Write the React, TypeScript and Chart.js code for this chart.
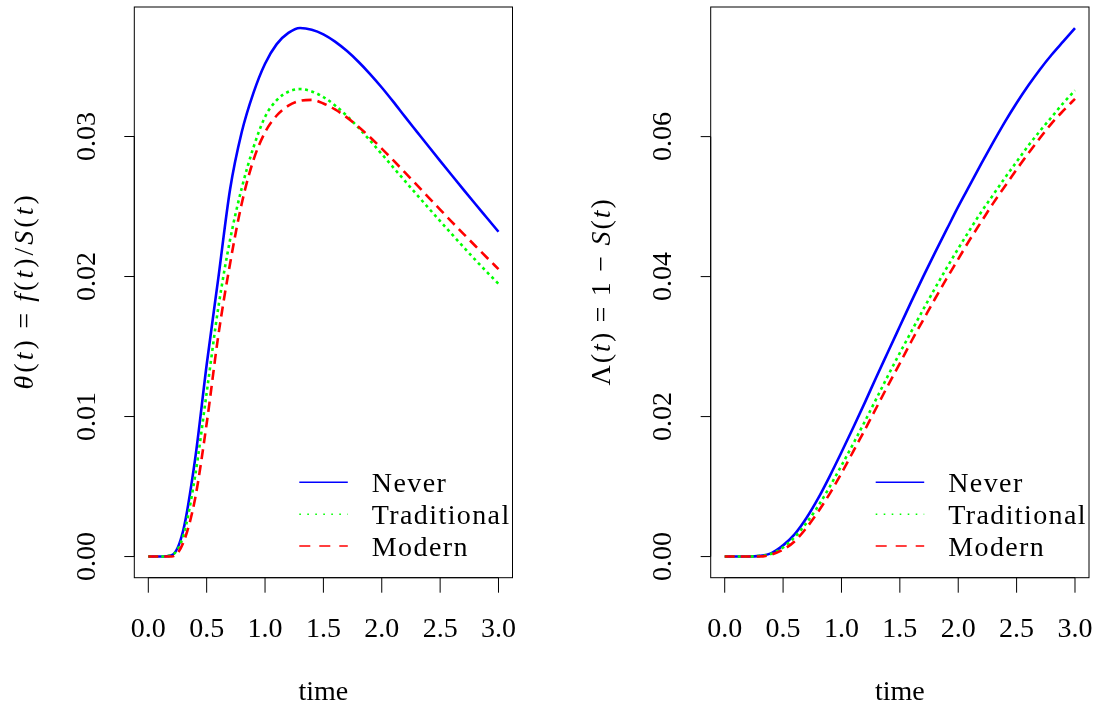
import React, { useEffect, useRef } from "react";
import { Chart, registerables } from "chart.js";

Chart.register(...registerables);

// ---------------- data ----------------
const time = [
  0, 0.1, 0.2, 0.3, 0.4, 0.5, 0.6, 0.7, 0.8, 0.9, 1.0, 1.1, 1.2, 1.3, 1.4, 1.5,
  1.6, 1.7, 1.8, 1.9, 2.0, 2.1, 2.2, 2.3, 2.4, 2.5, 2.6, 2.7, 2.8, 2.9, 3.0,
];

const hazardNever = [
  0, 0, 0.0001, 0.0019, 0.0069, 0.0137, 0.0199, 0.0262, 0.0303, 0.0331, 0.0352,
  0.0366, 0.0374, 0.03775, 0.03763, 0.0373, 0.03678, 0.03612, 0.03534, 0.03446,
  0.0335, 0.03247, 0.0314, 0.03035, 0.0293, 0.02826, 0.02723, 0.02621, 0.0252,
  0.0242, 0.0232,
];
const hazardTraditional = [
  0, 0, 0.0001, 0.0015, 0.0057, 0.0117, 0.0178, 0.0226, 0.0263, 0.0292, 0.0314,
  0.0326, 0.0332, 0.03339, 0.03322, 0.03282, 0.03222, 0.03148, 0.03063, 0.02971,
  0.02875, 0.02778, 0.02681, 0.02585, 0.0249, 0.02396, 0.02303, 0.02211, 0.0212,
  0.02033, 0.01948,
];
const hazardModern = [
  0, 0, 0, 0.001, 0.0041, 0.0095, 0.0158, 0.0209, 0.0252, 0.0283, 0.0303,
  0.0315, 0.0322, 0.03255, 0.03262, 0.03236, 0.03193, 0.03137, 0.0307, 0.02995,
  0.02914, 0.02829, 0.02742, 0.02654, 0.02566, 0.02478, 0.02391, 0.02305, 0.0222,
  0.02136, 0.02053,
];

const cumNever = [
  0, 0, 0, 0.0001, 0.0005, 0.0016, 0.0032, 0.0055, 0.0083, 0.0115, 0.0149,
  0.0184, 0.022, 0.0257, 0.0293, 0.0329, 0.0365, 0.04, 0.0434, 0.0467, 0.05,
  0.0531, 0.0562, 0.0592, 0.0621, 0.0648, 0.0673, 0.0696, 0.0717, 0.0736, 0.0755,
];
const cumTraditional = [
  0, 0, 0, 0.0001, 0.0004, 0.0013, 0.0028, 0.0048, 0.0072, 0.01, 0.013,
  0.0161, 0.0193, 0.0226, 0.0259, 0.0291, 0.0322, 0.0353, 0.0383, 0.0412, 0.044,
  0.0467, 0.0493, 0.0517, 0.0541, 0.0564, 0.0587, 0.0608, 0.0628, 0.0648, 0.0666,
];
const cumModern = [
  0, 0, 0, 0, 0.0003, 0.001, 0.0022, 0.0041, 0.0064, 0.009, 0.0119,
  0.015, 0.0181, 0.0213, 0.0245, 0.0276, 0.0308, 0.0338, 0.0368, 0.0397, 0.0425,
  0.0453, 0.0479, 0.0505, 0.0529, 0.0553, 0.0576, 0.0598, 0.0619, 0.0637, 0.0654,
];

const seriesNames = ["Never", "Traditional", "Modern"];
const seriesColors = ["#0000ff", "#00ff00", "#ff0000"];
const plotDash: number[][] = [[], [3, 3.5], [10, 6]];
const legendDash: number[][] = [[], [1.6, 6.4], [11, 9]];

const xTicks = [0, 0.5, 1, 1.5, 2, 2.5, 3];
const xTickLabels = ["0.0", "0.5", "1.0", "1.5", "2.0", "2.5", "3.0"];
const xTitle = "time";

const yTicksHazard = [0, 0.01, 0.02, 0.03];
const yTickLabelsHazard = ["0.00", "0.01", "0.02", "0.03"];
const yTicksCum = [0, 0.02, 0.04, 0.06];
const yTickLabelsCum = ["0.00", "0.02", "0.04", "0.06"];

type Seg = [string, boolean];
const hazardTitle: Seg[] = [
  ["θ", true], ["(", false], ["t", true], [")", false], [" = ", false],
  ["f", true], ["(", false], ["t", true], [")", false], ["/", false],
  ["S", true], ["(", false], ["t", true], [")", false],
];
const cumTitle: Seg[] = [
  ["Λ", false], ["(", false], ["t", true], [")", false], [" = 1 − ", false],
  ["S", true], ["(", false], ["t", true], [")", false],
];

// ---------------- drawing helpers ----------------
const FONT = '"Liberation Serif", "Times New Roman", serif';
const FS = 28;

function drawRich(ctx: CanvasRenderingContext2D, segs: Seg[], size: number, spacing: number) {
  const items: { ch: string; font: string; w: number }[] = [];
  for (const [txt, it] of segs) {
    for (const ch of Array.from(txt)) {
      const font = (it ? "italic " : "") + size + "px " + FONT;
      ctx.font = font;
      const w = ch === " " ? size * 0.3 : ctx.measureText(ch).width + spacing;
      items.push({ ch, font, w });
    }
  }
  const total = items.reduce((a, b) => a + b.w, 0) - spacing;
  let x = -total / 2;
  ctx.textAlign = "left";
  for (const it of items) {
    if (it.ch !== " ") {
      ctx.font = it.font;
      ctx.fillText(it.ch, x, 0);
    }
    x += it.w;
  }
}

interface PanelCfg {
  canvasLeft: number;
  padLeft: number;
  padRight: number;
  yMin: number;
  yMax: number;
  yTicks: number[];
  yTickLabels: string[];
  yTitle: Seg[];
  titleSpacing: number;
  series: number[][];
}

function makePlugin(cfg: PanelCfg) {
  return {
    id: "rStyleAxes",
    afterDraw(chart: any) {
      const ctx: CanvasRenderingContext2D = chart.ctx;
      const { left, right, top, bottom } = chart.chartArea;
      const xs = chart.scales.x;
      const ys = chart.scales.y;
      ctx.save();
      ctx.strokeStyle = "#000";
      ctx.fillStyle = "#000";
      ctx.lineWidth = 1;
      ctx.setLineDash([]);
      // box
      ctx.strokeRect(left, top, right - left, bottom - top);
      // x axis
      ctx.beginPath();
      const xp = xTicks.map((v) => xs.getPixelForValue(v));
      ctx.moveTo(xp[0], bottom);
      ctx.lineTo(xp[xp.length - 1], bottom);
      xp.forEach((p) => {
        ctx.moveTo(p, bottom);
        ctx.lineTo(p, bottom + 15);
      });
      // y axis
      const yp = cfg.yTicks.map((v) => ys.getPixelForValue(v));
      ctx.moveTo(left, yp[0]);
      ctx.lineTo(left, yp[yp.length - 1]);
      yp.forEach((p) => {
        ctx.moveTo(left, p);
        ctx.lineTo(left - 10, p);
      });
      ctx.stroke();

      // x tick labels
      ctx.font = FS + "px " + FONT;
      ctx.textAlign = "center";
      ctx.textBaseline = "alphabetic";
      xp.forEach((p, i) => ctx.fillText(xTickLabels[i], p, bottom + 59));
      // x title
      ctx.fillText(xTitle, (left + right) / 2, bottom + 122);

      // y tick labels (rotated)
      yp.forEach((p, i) => {
        ctx.save();
        ctx.translate(left - 39.5, p);
        ctx.rotate(-Math.PI / 2);
        ctx.textAlign = "center";
        ctx.fillText(cfg.yTickLabels[i], 0, 0);
        ctx.restore();
      });

      // y title
      ctx.save();
      ctx.translate(left - 101, (top + bottom) / 2);
      ctx.rotate(-Math.PI / 2);
      drawRich(ctx, cfg.yTitle, FS, cfg.titleSpacing);
      ctx.restore();

      // legend
      const rows = [bottom - 95.4, bottom - 63.4, bottom - 31.7];
      seriesNames.forEach((name, i) => {
        const y = rows[i];
        ctx.beginPath();
        ctx.strokeStyle = seriesColors[i];
        ctx.lineWidth = 1.5;
        ctx.lineCap = "butt";
        ctx.setLineDash(legendDash[i]);
        ctx.moveTo(left + 165, y);
        ctx.lineTo(left + 213.5, y);
        ctx.stroke();
        ctx.setLineDash([]);
        ctx.font = FS + "px " + FONT;
        ctx.textAlign = "left";
        ctx.fillStyle = "#000";
        (ctx as any).letterSpacing = "1.4px";
        ctx.fillText(name, left + 237.5, y + 9.5);
        (ctx as any).letterSpacing = "0px";
      });
      ctx.restore();
    },
  };
}

function Panel({ cfg }: { cfg: PanelCfg }) {
  const ref = useRef<HTMLCanvasElement | null>(null);
  useEffect(() => {
    if (!ref.current) return;
    const datasets = cfg.series.map((vals, i) => ({
      label: seriesNames[i],
      data: time.map((t, k) => ({ x: t, y: vals[k] })),
      borderColor: seriesColors[i],
      backgroundColor: seriesColors[i],
      borderWidth: 2.6,
      borderDash: plotDash[i],
      borderCapStyle: "butt" as const,
      pointRadius: 0,
      fill: false,
      cubicInterpolationMode: "monotone" as const,
      order: 3 - i,
    }));
    const chart = new Chart(ref.current, {
      type: "line",
      data: { datasets },
      options: {
        animation: false,
        responsive: false,
        devicePixelRatio: 1,
        events: [],
        layout: {
          padding: { left: cfg.padLeft, right: cfg.padRight, top: 7, bottom: 129.3 },
        },
        plugins: { legend: { display: false }, tooltip: { enabled: false } },
        scales: {
          x: { type: "linear", min: -0.12, max: 3.12, display: false },
          y: { type: "linear", min: cfg.yMin, max: cfg.yMax, display: false },
        },
      },
      plugins: [makePlugin(cfg)],
    } as any);
    return () => chart.destroy();
  }, []);
  return (
    <canvas
      ref={ref}
      width={551}
      height={707}
      style={{ position: "absolute", left: cfg.canvasLeft, top: 0, width: 551, height: 707 }}
    />
  );
}

const leftCfg: PanelCfg = {
  canvasLeft: 0,
  padLeft: 134.3,
  padRight: 38.5,
  yMin: -0.00151,
  yMax: 0.03925,
  yTicks: yTicksHazard,
  yTickLabels: yTickLabelsHazard,
  yTitle: hazardTitle,
  titleSpacing: 3,
  series: [hazardNever, hazardTraditional, hazardModern],
};

const rightCfg: PanelCfg = {
  canvasLeft: 551,
  padLeft: 159.7,
  padRight: 13,
  yMin: -0.00302,
  yMax: 0.07852,
  yTicks: yTicksCum,
  yTickLabels: yTickLabelsCum,
  yTitle: cumTitle,
  titleSpacing: 2,
  series: [cumNever, cumTraditional, cumModern],
};

export default function App() {
  return (
    <div
      style={{
        position: "absolute",
        left: 0,
        top: 0,
        width: 1102,
        height: 707,
        background: "#fff",
        overflow: "hidden",
      }}
    >
      <Panel cfg={leftCfg} />
      <Panel cfg={rightCfg} />
    </div>
  );
}
